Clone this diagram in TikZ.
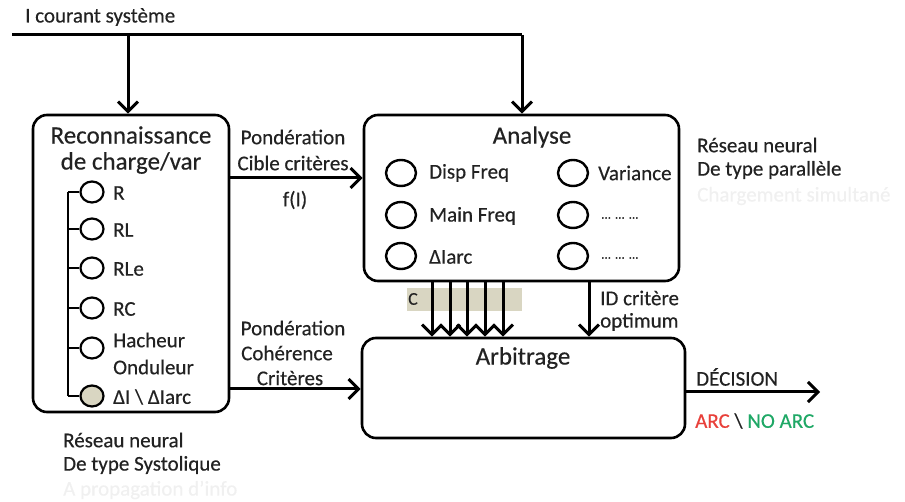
\documentclass[tikz,border=0pt]{standalone}
\usepackage{fontspec}
\setmainfont{Carlito}[FakeBold=0.4]
\usetikzlibrary{arrows.meta,shapes.geometric}
\definecolor{txt}{HTML}{222222}
\definecolor{beige}{HTML}{D9D6C2}
\definecolor{arcred}{HTML}{E8403A}
\definecolor{arcgreen}{HTML}{1FA866}
\definecolor{faint}{HTML}{F0F0F0}
\begin{document}
\begin{tikzpicture}[x=1pt,y=-1pt,
  box/.style={draw, rectangle, rounded corners=14pt, line width=2.6pt, inner sep=0},
  arr/.style={line width=3pt, -{Straight Barb[length=10pt,width=20pt]}},
  wire/.style={line width=3pt},
  ell/.style={ellipse, draw, line width=2.2pt, minimum width=23pt, minimum height=21pt, inner sep=0},
  bigell/.style={ellipse, draw, line width=2.4pt, minimum width=30pt, minimum height=26pt, inner sep=0},
  lab/.style={font=\fontsize{21}{25}\selectfont, text=txt, inner sep=0},
  title/.style={font=\fontsize{25}{30}\selectfont, text=txt, inner sep=0},
  dots/.style={font=\fontsize{13}{15}\selectfont, text=txt, inner sep=0, anchor=west}
]
\useasboundingbox (0,0) rectangle (905,502);

% boxes
\node[box, minimum width=196pt, minimum height=297pt] (reco) at (131,263.5) {};
\node[box, minimum width=315pt, minimum height=166pt] (anal) at (521.5,198) {};
\node[box, minimum width=323pt, minimum height=100pt] (arb) at (523.5,388) {};

% titles
\node[title] (t1) at (131,135) {Reconnaissance};
\node[title] (t2) at (131,163) {de charge/var};
\node[title] (t3) at (532,137) {Analyse};
\node[title] (t4) at (523,358) {Arbitrage};

% top input
\node[lab, anchor=west] (ic) at (25,17) {I courant système};
\coordinate (s0) at (12,35);
\coordinate (j1) at (128,35);
\coordinate (j2) at (522,35);
\draw[wire] (s0) -- (j2);
\draw[arr] (j1) -- (j1 |- reco.north);
\draw[arr] (j2) -- (j2 |- anal.north);

% left tree
\foreach \n/\y in {a/192,b/229,c/268,d/308,e/348}{
  \node[ell] (c\n) at (92,\y) {};
}
\node[ell, fill=beige] (cf) at (92,396) {};
\coordinate (tt) at (68,192);
\coordinate (tb) at (68,396);
\draw[line width=1.6pt] (tt) -- (tb);
\foreach \n in {a,b,c,d,e,f}{
  \draw[line width=1.6pt] (tt |- c\n.west) -- (c\n.west);
}
\node[lab, anchor=west] (lr) at (113,193) {R};
\node[lab, anchor=west] (lrl) at (113,230) {RL};
\node[lab, anchor=west] (lrle) at (113,269) {RLe};
\node[lab, anchor=west] (lrc) at (113,309) {RC};
\node[lab, anchor=west] (lh) at (113,340) {Hacheur};
\node[lab, anchor=west] (lo) at (113,367) {Onduleur};
\node[lab, anchor=west] (ld) at (113,397) {ΔI \textbackslash{} ΔIarc};

% analyse circles
\node[bigell] (a1) at (401,173) {};
\node[bigell] (a2) at (401,215) {};
\node[bigell] (a3) at (401,256) {};
\node[bigell] (a4) at (573,173) {};
\node[bigell] (a5) at (573,215) {};
\node[bigell] (a6) at (573,256) {};
\node[lab, anchor=west] (la1) at (429,173) {Disp Freq};
\node[lab, anchor=west] (la2) at (429,216) {Main Freq};
\node[lab, anchor=west] (la3) at (429,257) {ΔIarc};
\node[lab, anchor=west] (la4) at (598,173) {Variance};
\node[dots] (la5) at (601,218) {... ... ...};
\node[dots] (la6) at (601,258) {... ... ...};

% connection reco -> analyse
\coordinate (y1) at (0,178);
\draw[arr] (reco.east |- y1) -- (anal.west |- y1);
\node[lab] (p1) at (293,137) {Pondération};
\node[lab] (p2) at (293,163) {Cible critères};
\node[lab] (p3) at (295,200) {f(I)};

% connection reco -> arbitrage
\coordinate (y2) at (0,389);
\draw[arr] (reco.east |- y2) -- (arb.west |- y2);
\node[lab] (q1) at (293,328) {Pondération};
\node[lab] (q2) at (287,353) {Cohérence};
\node[lab] (q3) at (290,378) {Critères};

% C arrows
\fill[beige] (407,288) rectangle (522,311);
\node[lab, font=\fontsize{18}{20}\selectfont] (cc) at (413,299) {C};
\foreach \x in {432,450,467,485,503}{
  \draw[arr] (anal.south -| \x,0) -- (arb.north -| \x,0);
}
\coordinate (xid) at (589,0);
\draw[arr] (anal.south -| xid) -- (arb.north -| xid);
\node[lab, anchor=west] (id1) at (600,298) {ID critère};
\node[lab, anchor=west] (id2) at (600,322) {optimum};

% decision
\coordinate (y3) at (0,392);
\coordinate (dend) at (820,392);
\draw[arr] (arb.east |- y3) -- (dend);
\node[lab, anchor=west] (dec) at (696,377) {DÉCISION};
\node[lab, anchor=west] (res) at (695,421) {\textcolor{arcred}{ARC} \textbackslash{} \textcolor{arcgreen}{NO ARC}};

% network notes
\node[lab, anchor=west] (n1) at (63,440) {Réseau neural};
\node[lab, anchor=west] (n2) at (63,465) {De type Systolique};
\node[lab, anchor=west, text=faint] (n3) at (63,490) {A propagation d'info};
\node[lab, anchor=west] (m1) at (697,145) {Réseau neural};
\node[lab, anchor=west] (m2) at (697,170) {De type parallèle};
\node[lab, anchor=west, text=faint] (m3) at (697,196) {Chargement simultané};
\end{tikzpicture}
\end{document}
